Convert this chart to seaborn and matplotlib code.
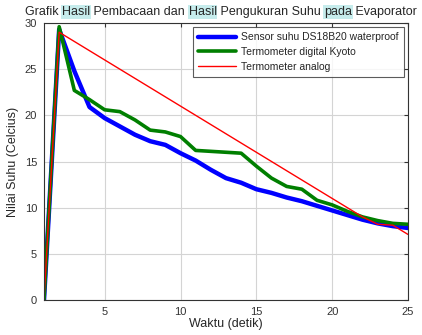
import numpy as np
import pandas as pd
import matplotlib
matplotlib.use("Agg")
import matplotlib.pyplot as plt
import seaborn as sns

# data
waktu = list(range(1, 26))
sensor_ds18b20 = [0, 29.3, 24.8, 20.9, 19.7, 18.8, 17.9, 17.2, 16.8, 15.9,
                  15.1, 14.1, 13.2, 12.7, 12.0, 11.6, 11.1, 10.7, 10.2, 9.7,
                  9.2, 8.7, 8.3, 8.0, 7.8]
kyoto = [0, 29.6, 22.7, 21.7, 20.6, 20.4, 19.5, 18.4, 18.2, 17.7,
         16.2, 16.1, 16.0, 15.9, 14.5, 13.2, 12.3, 12.0, 10.8, 10.3,
         9.6, 9.0, 8.6, 8.3, 8.2]
analog = [0, 29, 28, 27, 26, 25, 24, 23, 22, 21,
          20, 19, 18, 17, 16, 15, 14, 13, 12, 11,
          10, 9, 8.2, 8.1, 7.1]
labels = ["Sensor suhu DS18B20 waterproof", "Termometer digital Kyoto", "Termometer analog"]
colors = ["#0000ff", "#007f00", "#ff0000"]
widths = [3.2, 2.6, 1.0]

df = pd.DataFrame({
    "Waktu": waktu * 3,
    "Suhu": sensor_ds18b20 + kyoto + analog,
    "Alat": [labels[0]] * 25 + [labels[1]] * 25 + [labels[2]] * 25,
})

sns.set_style("white")
plt.rcParams["font.family"] = ["Liberation Sans", "DejaVu Sans"]

fig = plt.figure(figsize=(4.22, 3.35), dpi=100)
ax = fig.add_axes([44 / 422, 35 / 335, 364 / 422, 277 / 335])

for lab, c, w in zip(labels, colors, widths):
    sns.lineplot(data=df[df["Alat"] == lab], x="Waktu", y="Suhu", color=c,
                 linewidth=w, label=lab, ax=ax)

ax.set_xlim(1, 25)
ax.set_ylim(0, 30)
ax.set_xticks([5, 10, 15, 20, 25])
ax.set_yticks([0, 5, 10, 15, 20, 25, 30])
ax.grid(True, color="#d4d4d4", linewidth=0.8)
ax.tick_params(direction="in", length=3, labelsize=8, top=True, right=True,
               colors="#333333", pad=5)
for s in ax.spines.values():
    s.set_color("#333333")
    s.set_linewidth(0.8)
ax.set_xlabel("Waktu (detik)", fontsize=9, labelpad=1)
ax.set_ylabel("Nilai Suhu (Celcius)", fontsize=9, labelpad=4)

leg = ax.legend(loc="upper right", fontsize=7.5, frameon=True, fancybox=False,
                borderaxespad=0.4, handlelength=3.6, labelspacing=0.45,
                borderpad=0.5, handletextpad=0.5)
leg.get_frame().set_edgecolor("#333333")
leg.get_frame().set_linewidth(0.8)

# title with highlighted words
pieces = [("Grafik ", False), ("Hasil", True), (" Pembacaan dan ", False),
          ("Hasil", True), (" Pengukuran Suhu ", False), ("pada", True),
          (" Evaporator", False)]
prev = None
for txt, hl in pieces:
    bbox = dict(facecolor="#c6ecec", edgecolor="none", pad=0.5) if hl else None
    if prev is None:
        prev = fig.text(25 / 422, 1 - 15 / 335, txt, fontsize=9, ha="left",
                        va="baseline", bbox=bbox)
    else:
        prev = ax.annotate(txt, xy=(1, 0), xycoords=prev, fontsize=9,
                           ha="left", va="bottom", bbox=bbox,
                           annotation_clip=False)

fig.savefig("out.png", dpi=100)
